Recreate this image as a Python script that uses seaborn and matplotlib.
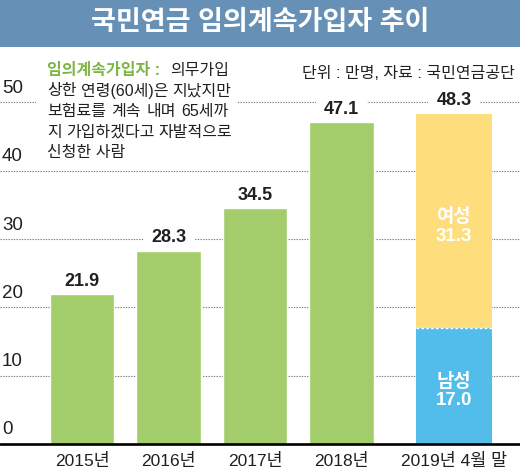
import matplotlib
matplotlib.use('Agg')
import matplotlib.pyplot as plt
from matplotlib.patches import Rectangle
import seaborn as sns

# data
years = ['2015년', '2016년', '2017년', '2018년']
totals = [21.9, 28.3, 34.5, 47.1]
latest_label = '2019년 4월 말'
latest_total = 48.3
male = 17.0
female = 31.3
y_ticks = [0, 10, 20, 30, 40, 50]

title = '국민연금 임의계속가입자 추이'
source = '단위 : 만명, 자료 : 국민연금공단'
note_head = '임의계속가입자 :'
note_lines = [
    ['의무가입'],
    ['상한', '연령(60세)은', '지났지만'],
    ['보험료를', '계속', '내며', '65세까'],
    ['지', '가입하겠다고', '자발적으로'],
]
note_last = '신청한 사람'

# colours
GREEN = '#a3cc6a'
YELLOW = '#fddd7c'
BLUE = '#52bdea'
HEAD = '#6690b5'
TEXT = '#231f20'
NOTE_GREEN = '#7db646'

W, H = 520, 469
KR = ['Liberation Sans', 'Noto Sans CJK KR']

sns.set_theme(style='white')
plt.rcParams['font.family'] = KR

fig = plt.figure(figsize=(W / 100, H / 100), dpi=100)
fig.patch.set_facecolor('white')


def fx(px):
    return px / W


def fy(py):
    return 1 - py / H


# axes: baseline at y=444px, top under the title bar at 47px
px_per_unit = 6.83
ax = fig.add_axes([0, fy(444), 1, (444 - 47) / H])
ax.set_facecolor('none')

sns.barplot(x=years, y=totals, color=GREEN, saturation=1, width=0.74,
            errorbar=None, ax=ax, zorder=4)

x_last = 4.3
w_last = 0.87
ax.bar(x_last, male, width=w_last, color=BLUE, zorder=4, linewidth=0)
ax.bar(x_last, female, bottom=male, width=w_last, color=YELLOW, zorder=4,
       linewidth=0)
ax.plot([x_last - w_last / 2, x_last + w_last / 2], [male, male],
        color='white', lw=1, ls=(0, (2, 1.5)), zorder=5)

ax.set_xlim(-82 / 86.5, (W - 82) / 86.5)
ax.set_ylim(0, (444 - 47) / px_per_unit)
ax.set_xticks([])
ax.set_yticks([])
ax.set_xlabel('')
ax.set_ylabel('')
for s in ax.spines.values():
    s.set_visible(False)

# dotted gridlines + y labels
for v in y_ticks:
    if v > 0:
        ax.axhline(v, color='#7a7a7a', lw=0.8, ls=(0, (1.2, 1.2)), zorder=1)
    ax.text(0.004, v + 2.05, str(v), transform=ax.get_yaxis_transform(),
            ha='left', va='center', fontsize=13.5, color=TEXT)
ax.axhline(0, color='black', lw=1.9, zorder=6, clip_on=False)

# x labels
positions = list(range(len(years))) + [x_last]
for pos, lab in zip(positions, years + [latest_label]):
    ax.annotate(lab, (pos, 0), xytext=(0, -12.5), textcoords='offset points',
                ha='center', va='center', fontsize=12.5, color=TEXT,
                annotation_clip=False)

# value labels
for pos, val in zip(positions, totals + [latest_total]):
    ax.annotate(f'{val:.1f}', (pos, val), xytext=(0, 9.5),
                textcoords='offset points', ha='center', va='center',
                fontsize=13, fontweight='bold', color=TEXT, zorder=3,
                bbox=dict(boxstyle='square,pad=0.45', fc='white', ec='none'))

ax.text(x_last, male / 2 - 0.7, f'남성\n{male:.1f}', ha='center', va='center',
        color='white', fontsize=13.5, fontweight='bold', linespacing=1.1,
        zorder=6)
ax.text(x_last, male + female / 2 - 0.8, f'여성\n{female:.1f}', ha='center',
        va='center', color='white', fontsize=13.5, fontweight='bold',
        linespacing=1.1, zorder=6)

# title bar
fig.add_artist(Rectangle((0, fy(47)), 1, 47 / H, transform=fig.transFigure,
                         facecolor=HEAD, edgecolor='none', zorder=1))
fig.text(0.5, fy(23), title, ha='center', va='center', color='white',
         fontsize=19.5, fontweight='bold', zorder=2)

fig.text(fx(515), fy(73), source, ha='right', va='center', fontsize=11.5,
         color=TEXT, zorder=2)

# note box, white so the 50 gridline is hidden behind it
fig.add_artist(Rectangle((fx(36), fy(162)), fx(238 - 36), (162 - 55) / H,
                         transform=fig.transFigure, facecolor='white',
                         edgecolor='none', zorder=1))

renderer = fig.canvas.get_renderer()
x0, x1 = 47, 229
line_y = [71, 91, 111.5, 132, 152]
note_kw = dict(fontsize=11.5, color=TEXT, va='center', zorder=2)


def justify(items, y):
    texts = [fig.text(0, fy(y), w, ha='left', **kw) for w, kw in items]
    widths = [t.get_window_extent(renderer).width for t in texts]
    gap = max((x1 - x0 - sum(widths)) / max(len(texts) - 1, 1), 4)
    x = x0
    for t, w in zip(texts, widths):
        t.set_x(fx(x))
        x += w + gap


head_kw = dict(note_kw, color=NOTE_GREEN, fontweight='bold')
justify([(note_head, head_kw)] + [(w, note_kw) for w in note_lines[0]],
        line_y[0])
for words, y in zip(note_lines[1:], line_y[1:4]):
    justify([(w, note_kw) for w in words], y)
fig.text(fx(x0), fy(line_y[4]), note_last, ha='left', **note_kw)

fig.savefig('out.png', dpi=100, facecolor='white')
